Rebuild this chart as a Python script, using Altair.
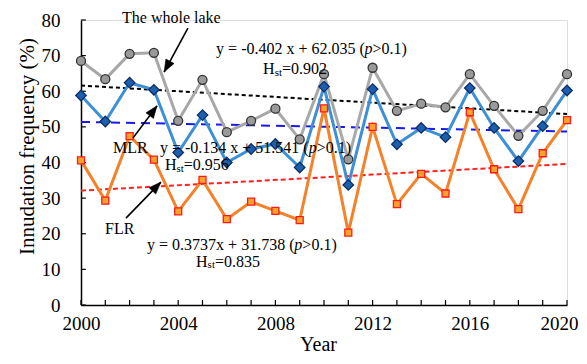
import altair as alt
import pandas as pd

# ---------------- data ----------------
years = list(range(2000, 2021))
whole_lake = [68.5, 63.4, 70.5, 70.8, 51.7, 63.2, 48.5, 51.7, 55.1, 46.5, 64.8,
              40.9, 66.6, 54.5, 56.5, 55.5, 64.8, 55.9, 47.5, 54.5, 64.8]
mlr = [58.8, 51.5, 62.4, 60.4, 42.8, 53.3, 40.0, 43.8, 45.2, 38.6, 61.3,
       33.7, 60.6, 45.1, 49.7, 47.1, 60.9, 49.7, 40.4, 50.2, 60.2]
flr = [40.6, 29.3, 47.4, 40.8, 26.3, 35.1, 24.1, 29.0, 26.4, 23.8, 55.2,
       20.3, 50.0, 28.3, 36.8, 31.3, 54.1, 38.1, 26.9, 42.6, 51.9]

trend_names = ["The whole lake", "MLR", "FLR"]
trend_2000 = [61.6, 51.4, 32.1]
trend_2020 = [53.6, 48.7, 39.6]

x_tick_labels = [2000, 2004, 2008, 2012, 2016, 2020]
y_tick_labels = [0, 10, 20, 30, 40, 50, 60, 70, 80]

# annotation texts (normal size)
note_text = ["The whole lake", "y = -0.402 x + 62.035 (", ">0.1)", "H", "=0.902",
             "MLR", "y = -0.134 x + 51.541 (", ">0.1)", "H", "=0.956",
             "FLR", "y = 0.3737x + 31.738 (", ">0.1)", "H", "=0.835"]
note_year = [2001.69, 2005.56, 2012.00, 2007.49, 2008.27,
             2001.32, 2003.25, 2009.70, 2003.46, 2004.23,
             2000.99, 2002.72, 2009.11, 2004.73, 2005.51]
note_value = [80.56, 71.86, 71.86, 66.25, 66.25,
              44.07, 44.07, 44.07, 39.30, 39.30,
              21.33, 16.84, 16.84, 12.2, 12.2]
# italic "p"
p_year = [2011.67, 2009.37, 2008.78]
p_value = [71.86, 44.07, 16.84]
# subscript "st"
sub_year = [2007.97, 2003.93, 2005.21]
sub_value = [65.12, 38.18, 11.1]

# arrows: start -> tip
arrow_start_year = [2004.40, 2002.14, 2001.85]
arrow_start_value = [77.75, 46.9, 24.4]
arrow_tip_year = [2003.42, 2003.13, 2003.29]
arrow_tip_value = [65.4, 55.9, 34.5]
arrow_angle = [208.6, 36.9, 44.2]

FONT = "Liberation Serif"

# ---------------- scales / axes ----------------
xscale = alt.Scale(domain=[2000, 2020], nice=False, zero=False)
yscale = alt.Scale(domain=[0, 80], nice=False, zero=True)

xaxis = alt.Axis(values=x_tick_labels, format="d", ticks=False, grid=False,
                 domainColor="black", domainWidth=1.5,
                 labelFont=FONT, labelFontSize=19, labelColor="black",
                 labelPadding=9, labelFlush=False, labelOverlap=False,
                 labelOffset={"condition": {"test": "datum.value == 2020", "value": -8},
                              "value": 0},
                 title="Year", titleFont=FONT, titleFontSize=20,
                 titleFontWeight="normal", titleColor="black",
                 titleX=237, titleY=39, titleBaseline="middle")
yaxis = alt.Axis(values=y_tick_labels, format="d", ticks=False, grid=False,
                 domainColor="black", domainWidth=1.5,
                 labelFont=FONT, labelFontSize=19, labelColor="black",
                 labelPadding=21, labelOverlap=False,
                 title="Innudation frequency (%)", titleFont=FONT, titleFontSize=21,
                 titleFontWeight="normal", titleColor="black",
                 titleX=-54, titleY=126, titleBaseline="middle")


def X(field="year"):
    return alt.X(f"{field}:Q", scale=xscale, axis=xaxis)


def Y(field="value"):
    return alt.Y(f"{field}:Q", scale=yscale, axis=yaxis)


layers = []

# inside ticks
xt = pd.DataFrame({"year": years, "value": [0.0] * len(years), "value2": [1.4] * len(years)})
layers.append(alt.Chart(xt).mark_rule(color="black", strokeWidth=1.2).encode(
    x=X(), y=Y(), y2="value2:Q"))
yt = pd.DataFrame({"value": y_tick_labels, "year": [2000.0] * len(y_tick_labels),
                   "year2": [2000.2] * len(y_tick_labels)})
layers.append(alt.Chart(yt).mark_rule(color="black", strokeWidth=1.2).encode(
    x=X(), x2="year2:Q", y=Y()))

# trend lines
trend_styles = [("black", [4, 3]), ("#1a1ae6", [9, 6]), ("#ff2020", [5, 3])]
for i, name in enumerate(trend_names):
    td = pd.DataFrame({"year": [2000, 2020], "value": [trend_2000[i], trend_2020[i]]})
    col, dash = trend_styles[i]
    layers.append(alt.Chart(td).mark_line(color=col, strokeWidth=2, strokeDash=dash).encode(
        x=X(), y=Y()))

# series
series = [
    (whole_lake, "#a8a8a8", "circle", "#9a9a9a", "#333333", 81),
    (mlr, "#3d8fd6", "diamond", "#1c5fae", "#0f2f66", 110),
    (flr, "#f5822a", "square", "#f7a32a", "#ff1a1a", 49),
]
for vals, lc, shape, fill, stroke, size in series:
    d = pd.DataFrame({"year": years, "value": vals})
    base = alt.Chart(d).encode(x=X(), y=Y())
    layers.append(base.mark_line(color=lc, strokeWidth=3))
    layers.append(base.mark_point(shape=shape, filled=True, fill=fill, stroke=stroke,
                                  strokeWidth=1.3, size=size, opacity=1))

# arrows
ad = pd.DataFrame({"year": arrow_start_year, "value": arrow_start_value,
                   "year2": arrow_tip_year, "value2": arrow_tip_value})
layers.append(alt.Chart(ad).mark_rule(color="black", strokeWidth=1.6).encode(
    x=X(), y=Y(), x2="year2:Q", y2="value2:Q"))
hd = pd.DataFrame({"year": arrow_tip_year, "value": arrow_tip_value, "angle": arrow_angle})
layers.append(alt.Chart(hd).mark_point(shape="M0,0L0.38,1L-0.38,1Z", filled=True,
                                       fill="black", stroke="black", strokeWidth=0.5,
                                       size=600, opacity=1).encode(
    x=X(), y=Y(), angle=alt.Angle("angle:Q", scale=None)))

# texts
nd = pd.DataFrame({"year": note_year, "value": note_value, "label": note_text})
layers.append(alt.Chart(nd).mark_text(align="left", baseline="middle", font=FONT,
                                      fontSize=16, color="black").encode(
    x=X(), y=Y(), text="label:N"))
pdd = pd.DataFrame({"year": p_year, "value": p_value, "label": ["p"] * 3})
layers.append(alt.Chart(pdd).mark_text(align="left", baseline="middle", font=FONT,
                                       fontSize=16, fontStyle="italic", color="black").encode(
    x=X(), y=Y(), text="label:N"))
sd = pd.DataFrame({"year": sub_year, "value": sub_value, "label": ["st"] * 3})
layers.append(alt.Chart(sd).mark_text(align="left", baseline="middle", font=FONT,
                                      fontSize=11, color="black").encode(
    x=X(), y=Y(), text="label:N"))

chart = alt.layer(*layers).properties(
    width=486, height=285,
    autosize=alt.AutoSizeParams(type="none"),
    padding={"left": 73, "top": 12, "right": 12, "bottom": 51},
    background="white",
).configure_view(stroke=None).configure(font=FONT)

chart.save("out.html", embed_options={"renderer": "svg", "actions": False})
